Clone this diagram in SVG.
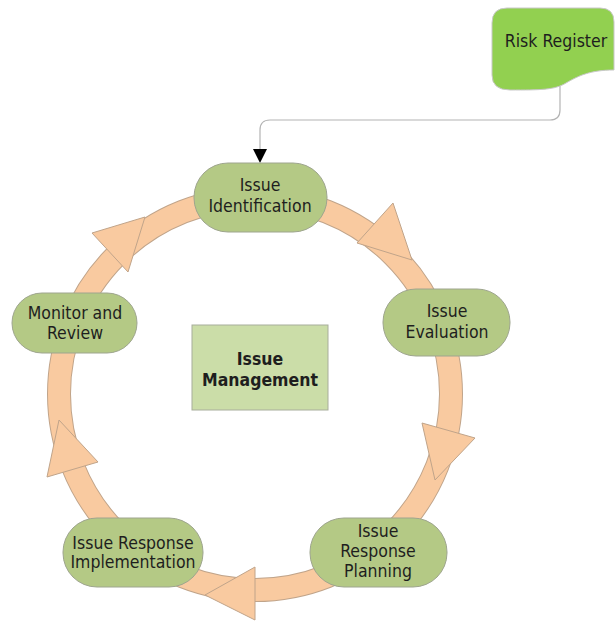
<svg xmlns="http://www.w3.org/2000/svg" width="616" height="622" viewBox="0 0 616 622">
<style>
.pill{fill:#b4c985;stroke:#9ea58e;stroke-width:1}
.lbl{font-family:"DejaVu Sans Condensed","DejaVu Sans",sans-serif;font-size:17.5px;fill:#1e1e1e;text-anchor:middle}
.bold{font-weight:bold}
.arr{fill:#f9caa0;stroke:#c0a48a;stroke-width:1;stroke-linejoin:round}
.conn{fill:none;stroke:#b4b4b4;stroke-width:1.2}
</style>
<g id="cycle">
<circle cx="255" cy="394" r="196" fill="none" stroke="#c0a48a" stroke-width="24"/>
<circle cx="255" cy="394" r="196" fill="none" stroke="#f9caa0" stroke-width="22"/>
<polygon class="arr" points="393,203 357,243 412,260"/>
<polygon class="arr" points="422,423 475,438 435,480"/>
<polygon class="arr" points="255,567 255,620 205,595"/>
<polygon class="arr" points="47,477 98,462 59,420"/>
<polygon class="arr" points="92,233 128,272 145,217"/>
</g>
<g id="connectors">
<path class="conn" d="M560,86 V110 Q560,120 550,120 H270 Q260,120 260,130 V150"/>
<path d="M253,149 L267,149 L260,163 Z" fill="#000"/>
</g>
<g id="risk-register">
<path d="M507,8 H600 Q614,8 614,22 V70 C590,70 578,76 566,83 C555,90 540,90 510,90 Q492,90 492,75 V23 Q492,8 507,8 Z" fill="#92d050" stroke="#c8c8c8" stroke-width="1"/>
<text class="lbl" x="556" y="47">Risk Register</text>
</g>
<g id="issue-identification">
<rect class="pill" x="194" y="163" width="133" height="69" rx="34"/>
<text class="lbl" x="260" y="191">Issue</text>
<text class="lbl" x="260" y="212">Identification</text>
</g>
<g id="issue-evaluation">
<rect class="pill" x="383" y="289" width="127" height="67" rx="33"/>
<text class="lbl" x="447" y="317">Issue</text>
<text class="lbl" x="447" y="338">Evaluation</text>
</g>
<g id="issue-response-planning">
<rect class="pill" x="310" y="518" width="137" height="69" rx="34"/>
<text class="lbl" x="378" y="537">Issue</text>
<text class="lbl" x="378" y="557">Response</text>
<text class="lbl" x="378" y="577">Planning</text>
</g>
<g id="issue-response-implementation">
<rect class="pill" x="63" y="518" width="140" height="69" rx="34"/>
<text class="lbl" x="133" y="549">Issue Response</text>
<text class="lbl" x="133" y="568">Implementation</text>
</g>
<g id="monitor-and-review">
<rect class="pill" x="12" y="293" width="125" height="60" rx="30"/>
<text class="lbl" x="75" y="319">Monitor and</text>
<text class="lbl" x="75" y="339">Review</text>
</g>
<g id="issue-management">
<rect x="192" y="325" width="136" height="85" fill="#cbdda8" stroke="#a8ad9c" stroke-width="1"/>
<text class="lbl bold" x="260" y="365">Issue</text>
<text class="lbl bold" x="260" y="386">Management</text>
</g>
</svg>
